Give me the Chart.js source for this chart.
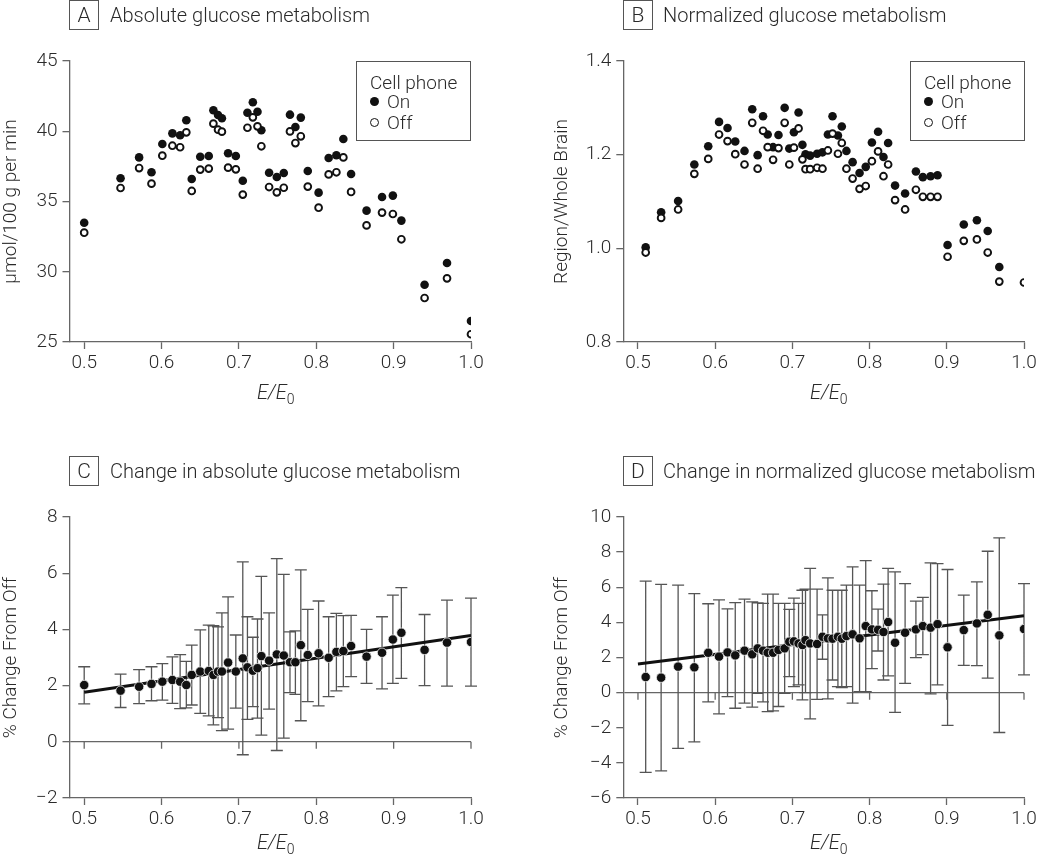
<!DOCTYPE html>
<html>
<head>
<meta charset="utf-8">
<script src="https://cdn.jsdelivr.net/npm/chart.js@4.4.1/dist/chart.umd.min.js"></script>
<style>
  body { margin: 0; width: 1050px; height: 861px; position: relative; overflow: hidden; background: #fff;
         font-family: Roboto, "Liberation Sans", sans-serif; font-weight: 300; color: #2a2a2a; }
  canvas { position: absolute; }
  .tag { position: absolute; width: 28px; height: 28px; border: 1.3px solid #555; font-size: 21px; line-height: 28px; text-align: center; }
  .ttl { position: absolute; font-size: 20px; line-height: 30px; white-space: nowrap; }
  .xt { position: absolute; font-size: 20px; line-height: 24px; font-style: italic; white-space: nowrap; }
  .xt sub { font-size: 14px; font-style: normal; }
  .leg { position: absolute; width: 113px; height: 78px; border: 1.3px solid #555; font-size: 19px; }
  .leg .row { position: absolute; line-height: 22px; white-space: nowrap; }
  .leg .mk { position: absolute; border-radius: 50%; box-sizing: border-box; }
</style>
</head>
<body>

<canvas id="chartA" width="525" height="420" style="left:0;top:0"></canvas>
<canvas id="chartB" width="525" height="420" style="left:525px;top:0"></canvas>
<canvas id="chartC" width="525" height="441" style="left:0;top:420px"></canvas>
<canvas id="chartD" width="525" height="441" style="left:525px;top:420px"></canvas>

<div class="tag" style="left:69px;top:0">A</div>
<div class="ttl" style="left:110px;top:0">Absolute glucose metabolism</div>
<div class="tag" style="left:623px;top:0">B</div>
<div class="ttl" style="left:663px;top:0">Normalized glucose metabolism</div>
<div class="tag" style="left:69px;top:456px">C</div>
<div class="ttl" style="left:110px;top:456px">Change in absolute glucose metabolism</div>
<div class="tag" style="left:623px;top:456px">D</div>
<div class="ttl" style="left:663px;top:456px">Change in normalized glucose metabolism</div>

<div class="xt" style="left:257px;top:380px">E/E<sub>0</sub></div>
<div class="xt" style="left:810px;top:380px">E/E<sub>0</sub></div>
<div class="xt" style="left:257px;top:830px">E/E<sub>0</sub></div>
<div class="xt" style="left:810px;top:830px">E/E<sub>0</sub></div>

<div class="leg" style="left:356px;top:61px">
  <div class="row" style="left:13px;top:10px">Cell phone</div>
  <div class="mk" style="left:13px;top:35px;width:9px;height:9px;background:#111"></div>
  <div class="row" style="left:30px;top:29px">On</div>
  <div class="mk" style="left:13px;top:56px;width:9px;height:9px;border:1.8px solid #111;background:#fff"></div>
  <div class="row" style="left:30px;top:50px">Off</div>
</div>
<div class="leg" style="left:910px;top:61px">
  <div class="row" style="left:13px;top:10px">Cell phone</div>
  <div class="mk" style="left:13px;top:35px;width:9px;height:9px;background:#111"></div>
  <div class="row" style="left:30px;top:29px">On</div>
  <div class="mk" style="left:13px;top:56px;width:9px;height:9px;border:1.8px solid #111;background:#fff"></div>
  <div class="row" style="left:30px;top:50px">Off</div>
</div>

<script>
// ---- data ----
const xTicks = [0.5, 0.6, 0.7, 0.8, 0.9, 1.0];

// panels A and C (absolute)
const xAbs = [0.500, 0.547, 0.571, 0.587, 0.601, 0.614, 0.624, 0.632, 0.639, 0.650,
              0.661, 0.667, 0.673, 0.678, 0.686, 0.696, 0.705, 0.711, 0.718, 0.724,
              0.729, 0.739, 0.749, 0.758, 0.766, 0.773, 0.780, 0.789, 0.803, 0.816,
              0.826, 0.835, 0.845, 0.865, 0.885, 0.899, 0.910, 0.940, 0.969, 1.000];
const absOn = [33.49, 36.65, 38.14, 37.08, 39.09, 39.85, 39.71, 40.78, 36.60, 38.19,
               38.24, 41.49, 41.16, 40.92, 38.43, 38.24, 36.48, 41.32, 42.06, 41.39,
               40.07, 37.05, 36.74, 37.03, 41.18, 40.30, 40.97, 37.17, 35.63, 38.10,
               38.29, 39.45, 36.96, 34.35, 35.32, 35.42, 33.64, 29.08, 30.62, 26.49];
const absOff = [32.78, 35.96, 37.38, 36.27, 38.26, 38.97, 38.86, 39.92, 35.75, 37.27,
                37.34, 40.54, 40.11, 39.97, 37.41, 37.29, 35.49, 40.25, 40.99, 40.35,
                38.93, 36.03, 35.65, 35.98, 39.99, 39.16, 39.64, 36.06, 34.56, 36.93,
                37.08, 38.14, 35.68, 33.30, 34.21, 34.11, 32.31, 28.13, 29.53, 25.55];
const chgAbs = [2.02, 1.82, 1.96, 2.06, 2.14, 2.20, 2.14, 2.02, 2.38, 2.50,
                2.52, 2.38, 2.50, 2.50, 2.82, 2.50, 2.97, 2.65, 2.53, 2.62,
                3.05, 2.89, 3.11, 3.07, 2.83, 2.83, 3.44, 3.09, 3.15, 2.99,
                3.20, 3.23, 3.41, 3.03, 3.17, 3.64, 3.88, 3.27, 3.53, 3.55];
const chgAbsHi = [2.67, 2.41, 2.57, 2.67, 2.78, 3.02, 3.10, 2.86, 3.44, 3.98,
                  4.15, 4.13, 4.09, 4.59, 5.16, 3.80, 6.40, 4.45, 3.72, 4.37,
                  5.89, 4.59, 6.52, 5.96, 3.91, 3.95, 6.12, 4.71, 5.01, 4.45,
                  4.57, 4.49, 4.50, 4.00, 4.45, 5.22, 5.49, 4.53, 5.04, 5.11];
const chgAbsLo = [1.35, 1.22, 1.36, 1.46, 1.48, 1.37, 1.18, 1.21, 1.31, 1.01,
                  0.92, 0.60, 0.86, 0.40, 0.45, 1.20, -0.46, 0.80, 1.25, 0.84,
                  0.24, 1.16, -0.31, 0.13, 1.75, 1.69, 0.75, 1.43, 1.28, 1.61,
                  1.81, 1.96, 2.32, 2.08, 1.88, 2.08, 2.26, 2.00, 1.98, 1.98];
const fitAbsX = [0.5, 1.0];
const fitAbsY = [1.76, 3.78];

// panels B and D (normalized)
const xNorm = [0.510, 0.530, 0.552, 0.573, 0.591, 0.605, 0.616, 0.626, 0.638, 0.648,
               0.655, 0.662, 0.668, 0.675, 0.682, 0.690, 0.696, 0.702, 0.708, 0.713,
               0.717, 0.723, 0.732, 0.739, 0.746, 0.752, 0.759, 0.764, 0.770, 0.778,
               0.787, 0.795, 0.803, 0.811, 0.818, 0.824, 0.833, 0.846, 0.860, 0.869,
               0.879, 0.888, 0.901, 0.922, 0.939, 0.953, 0.968, 1.000];
const normOn = [1.002, 1.077, 1.101, 1.179, 1.218, 1.270, 1.257, 1.228, 1.208, 1.297,
                1.199, 1.282, 1.243, 1.216, 1.242, 1.300, 1.213, 1.248, 1.290, 1.221,
                1.201, 1.198, 1.202, 1.205, 1.243, 1.282, 1.241, 1.260, 1.208, 1.184,
                1.161, 1.174, 1.226, 1.249, 1.195, 1.225, 1.134, 1.117, 1.164, 1.152,
                1.154, 1.156, 1.007, 1.051, 1.060, 1.037, 0.960, null];
const normOff = [0.991, 1.065, 1.083, 1.159, 1.191, 1.243, 1.229, 1.201, 1.179, 1.268,
                 1.170, 1.251, 1.216, 1.189, 1.214, 1.268, 1.179, 1.215, 1.256, 1.190,
                 1.169, 1.169, 1.172, 1.170, 1.209, 1.245, 1.202, 1.225, 1.170, 1.149,
                 1.127, 1.133, 1.186, 1.207, 1.154, 1.179, 1.103, 1.083, 1.125, 1.110,
                 1.110, 1.110, 0.982, 1.016, 1.019, 0.991, 0.929, 0.927];
const chgNorm = [0.89, 0.85, 1.48, 1.44, 2.27, 2.05, 2.29, 2.12, 2.39, 2.18,
                 2.52, 2.39, 2.27, 2.27, 2.43, 2.52, 2.90, 2.92, 2.80, 2.71,
                 2.99, 2.80, 2.77, 3.18, 3.09, 3.07, 3.18, 3.07, 3.22, 3.32,
                 3.09, 3.79, 3.60, 3.58, 3.45, 4.02, 2.84, 3.41, 3.60, 3.79,
                 3.70, 3.90, 2.58, 3.56, 3.94, 4.43, 3.26, 3.62];
const chgNormHi = [6.35, 6.16, 6.12, 5.64, 5.06, 5.28, 4.77, 5.13, 5.32, 5.17,
                   5.11, 5.08, 5.61, 5.61, 5.08, 5.08, 4.74, 5.38, 5.08, 5.83,
                   5.89, 7.08, 5.89, 4.43, 6.53, 5.83, 5.83, 5.83, 6.12, 7.16,
                   6.12, 7.52, 5.80, 4.75, 6.18, 7.08, 6.88, 6.21, 5.21, 5.42,
                   7.39, 7.35, 7.01, 5.55, 6.31, 8.05, 8.81, 6.21];
const chgNormLo = [-4.54, -4.45, -3.18, -2.80, -0.53, -1.21, -0.23, -0.89, -0.60, -0.83,
                   -0.04, -0.53, -1.08, -1.04, -0.79, -0.04, 0.91, 0.34, 0.44, -0.41,
                   0.00, -1.49, -0.38, 1.90, -0.36, 0.72, 0.34, 0.29, 0.34, -0.60,
                   0.06, 0.06, 1.37, 2.37, 0.72, 0.95, -1.12, 0.53, 1.99, 2.16,
                   -0.07, 0.44, -1.87, 1.55, 1.54, 0.82, -2.27, 1.01];
const fitNormX = [0.5, 1.0];
const fitNormY = [1.63, 4.38];

const yTicksA = [25, 30, 35, 40, 45];
const yTicksB = [0.8, 1.0, 1.2, 1.4];
const yTicksC = [-2, 0, 2, 4, 6, 8];
const yTicksD = [-6, -4, -2, 0, 2, 4, 6, 8, 10];

// ---- helpers ----
const FONT = { family: "Roboto, 'Liberation Sans', sans-serif", size: 19, weight: '300' };
const TXT = '#2a2a2a';
const AXIS = '#666';

const pts = (xs, ys) => xs.map((x, i) => ({ x: x, y: ys[i] })).filter(p => p.y !== null);
const minus = v => (v < 0 ? '\u2212' + Math.abs(v) : String(v));

// error bars + ticks on the zero line
function errorPlugin(xs, hi, lo) {
  return {
    id: 'errBars',
    beforeDatasetsDraw(chart) {
      const ctx = chart.ctx;
      const sx = chart.scales.x, sy = chart.scales.y;
      ctx.save();
      ctx.strokeStyle = '#555';
      ctx.lineWidth = 1.3;
      ctx.beginPath();
      xs.forEach((v, i) => {
        const px = sx.getPixelForValue(v);
        const t = sy.getPixelForValue(hi[i]);
        const b = sy.getPixelForValue(lo[i]);
        ctx.moveTo(px, t); ctx.lineTo(px, b);
        ctx.moveTo(px - 6, t); ctx.lineTo(px + 6, t);
        ctx.moveTo(px - 6, b); ctx.lineTo(px + 6, b);
      });
      ctx.stroke();
      // small ticks hanging under the zero line
      const y0 = sy.getPixelForValue(0);
      ctx.strokeStyle = AXIS;
      ctx.beginPath();
      xTicks.forEach(v => {
        const px = sx.getPixelForValue(v);
        ctx.moveTo(px, y0); ctx.lineTo(px, y0 + 7);
      });
      ctx.stroke();
      ctx.restore();
    }
  };
}

function makeChart(id, o) {
  new Chart(document.getElementById(id), {
    type: 'scatter',
    data: { datasets: o.datasets },
    plugins: o.plugins || [],
    options: {
      responsive: false,
      animation: false,
      events: [],
      layout: { padding: o.padding },
      plugins: { legend: { display: false }, tooltip: { enabled: false } },
      scales: {
        x: {
          type: 'linear', min: 0.481, max: 1.0,
          afterBuildTicks: s => { s.ticks = xTicks.map(v => ({ value: v })); },
          afterFit: s => { s.height = o.xHeight; },
          ticks: { font: FONT, color: TXT, padding: 3, maxRotation: 0, autoSkip: false,
                   callback: v => v.toFixed(1) },
          grid: { drawOnChartArea: false, tickLength: 7, tickColor: AXIS, tickWidth: 1.3 },
          border: { color: AXIS, width: 1.3 }
        },
        y: {
          type: 'linear', min: o.yTicks[0], max: o.yTicks[o.yTicks.length - 1],
          afterBuildTicks: s => { s.ticks = o.yTicks.map(v => ({ value: v })); },
          afterFit: s => { s.width = o.yWidth; },
          ticks: { font: FONT, color: TXT, padding: 5, callback: o.fmt },
          grid: {
            drawOnChartArea: !!o.zero,
            color: c => (c.tick && c.tick.value === 0 ? AXIS : 'rgba(0,0,0,0)'),
            lineWidth: 1.3, tickLength: 7, tickColor: AXIS, tickWidth: 1.3
          },
          border: { color: AXIS, width: 1.3 },
          title: { display: true, text: o.yTitle, font: FONT, color: TXT, padding: { top: 0, bottom: 0 } }
        }
      }
    }
  });
}

const onStyle = { pointRadius: 4.3, pointBackgroundColor: '#111', pointBorderColor: '#111', pointBorderWidth: 0, order: 1 };
const offStyle = { pointRadius: 3.4, pointBackgroundColor: '#fff', pointBorderColor: '#111', pointBorderWidth: 1.9, order: 0 };
const chgStyle = { pointRadius: 4.7, pointBackgroundColor: '#111', pointBorderColor: '#eee', pointBorderWidth: 0.8, order: 0 };
const fitStyle = { showLine: true, borderColor: '#111', borderWidth: 3, pointRadius: 0, order: 1 };

makeChart('chartA', {
  datasets: [
    Object.assign({ label: 'On', data: pts(xAbs, absOn) }, onStyle),
    Object.assign({ label: 'Off', data: pts(xAbs, absOff) }, offStyle)
  ],
  padding: { left: 0, right: 54, top: 61, bottom: 0 },
  yWidth: 69.5, xHeight: 78, yTicks: yTicksA, fmt: v => String(v),
  yTitle: '\u00b5mol/100 g per min'
});

makeChart('chartB', {
  datasets: [
    Object.assign({ label: 'On', data: pts(xNorm, normOn) }, onStyle),
    Object.assign({ label: 'Off', data: pts(xNorm, normOff) }, offStyle)
  ],
  padding: { left: 26, right: 26, top: 61, bottom: 0 },
  yWidth: 72.3, xHeight: 78, yTicks: yTicksB, fmt: v => v.toFixed(1),
  yTitle: 'Region/Whole Brain'
});

makeChart('chartC', {
  datasets: [
    Object.assign({ label: 'Change', data: pts(xAbs, chgAbs) }, chgStyle),
    Object.assign({ label: 'Fit', data: pts(fitAbsX, fitAbsY) }, fitStyle)
  ],
  plugins: [errorPlugin(xAbs, chgAbsHi, chgAbsLo)],
  padding: { left: 0, right: 54, top: 97, bottom: 0 },
  yWidth: 69.5, xHeight: 63, yTicks: yTicksC, fmt: minus, zero: true,
  yTitle: '% Change From Off'
});

makeChart('chartD', {
  datasets: [
    Object.assign({ label: 'Change', data: pts(xNorm, chgNorm) }, chgStyle),
    Object.assign({ label: 'Fit', data: pts(fitNormX, fitNormY) }, fitStyle)
  ],
  plugins: [errorPlugin(xNorm, chgNormHi, chgNormLo)],
  padding: { left: 26, right: 26, top: 97, bottom: 0 },
  yWidth: 72.3, xHeight: 63, yTicks: yTicksD, fmt: minus, zero: true,
  yTitle: '% Change From Off'
});
</script>
</body>
</html>
